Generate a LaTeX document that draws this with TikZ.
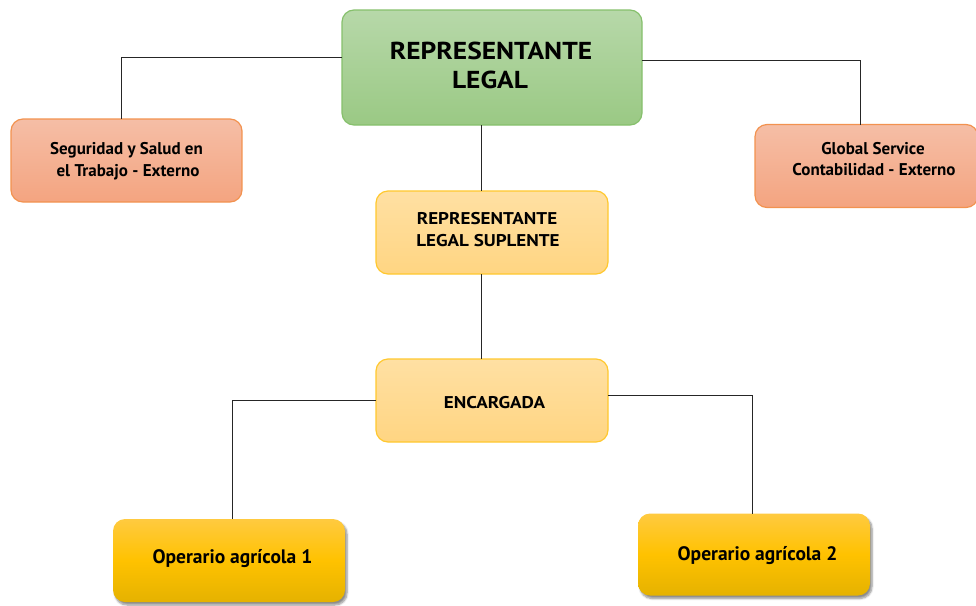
\documentclass[tikz,border=0pt]{standalone}
\usepackage{fontspec}
\setmainfont{PT Sans}
\newfontfamily\capsfont{PT Sans}[FakeStretch=1.12]
\usetikzlibrary{calc,shadows,shadows.blur}
\definecolor{gTop}{HTML}{B7D8A9}
\definecolor{gBot}{HTML}{9AC984}
\definecolor{gLine}{HTML}{86C06C}
\definecolor{sTop}{HTML}{F5BEA6}
\definecolor{sBot}{HTML}{F4A480}
\definecolor{sLine}{HTML}{F2924F}
\definecolor{yTop}{HTML}{FFE0A3}
\definecolor{yBot}{HTML}{FFD582}
\definecolor{yLine}{HTML}{FFC82E}
\definecolor{oTop}{HTML}{FFCA40}
\definecolor{oMid}{HTML}{FFC200}
\definecolor{oBot}{HTML}{E5B200}
\tikzset{
  box/.style={rectangle, rounded corners=12pt, inner sep=0pt, outer sep=0pt,
    line width=1.2pt},
  greenbox/.style={box, draw=gLine, top color=gTop, bottom color=gBot},
  salmonbox/.style={box, draw=sLine, top color=sTop, bottom color=sBot},
  lightbox/.style={box, draw=yLine, top color=yTop, bottom color=yBot},
  goldbox/.style={box, top color=oTop, bottom color=oBot, middle color=oMid,
    blur shadow={shadow blur steps=6, shadow xshift=2pt, shadow yshift=-3pt, shadow opacity=45}},
  lbl/.style={anchor=base, inner sep=0pt, text=black},
  bigcaps/.style={lbl, font=\capsfont\bfseries\fontsize{24.5}{29}\selectfont},
  smallcaps/.style={lbl, font=\capsfont\bfseries\fontsize{17}{22}\selectfont},
  smalltxt/.style={lbl, font=\bfseries\fontsize{17}{22}\selectfont},
  optxt/.style={lbl, font=\bfseries\fontsize{19.5}{24}\selectfont},
  conn/.style={draw=black!85, line width=1pt}
}
\begin{document}
\begin{tikzpicture}[x=1pt,y=-1pt]
\useasboundingbox (0,0) rectangle (976,605);
% boxes
\node[greenbox, minimum width=300pt, minimum height=115pt] (rl) at (492,67.5) {};
\node[salmonbox, minimum width=231pt, minimum height=83pt] (seg) at (126.5,160.5) {};
\node[salmonbox, minimum width=223pt, minimum height=83pt] (gs) at (866.5,166) {};
\node[lightbox, minimum width=232pt, minimum height=83pt] (sup) at (492,232.5) {};
\node[lightbox, minimum width=232pt, minimum height=83pt] (enc) at (492,400.5) {};
\node[goldbox, minimum width=232pt, minimum height=83pt] (op1) at (229,560.5) {};
\node[goldbox, minimum width=232pt, minimum height=82pt] (op2) at (754,554.5) {};
% texts
\node[bigcaps] (rl1) at (491,59) {REPRESENTANTE};
\node[bigcaps] (rl2) at (490,88) {LEGAL};
\node[smalltxt] (seg1) at (126.5,154) {Seguridad y Salud en};
\node[smalltxt] (seg2) at (128,176) {el Trabajo - Externo};
\node[smalltxt] (gs1) at (873,154) {Global Service};
\node[smalltxt] (gs2) at (874,175) {Contabilidad - Externo};
\node[smallcaps] (sup1) at (487,224) {REPRESENTANTE};
\node[smallcaps] (sup2) at (488,246) {LEGAL SUPLENTE};
\node[smallcaps] (enc1) at (494.5,408) {ENCARGADA};
\node[optxt] (op1t) at (232.5,563) {Operario agrícola 1};
\node[optxt] (op2t) at (757.5,560) {Operario agrícola 2};
% connectors
\draw[conn] ($(rl.north west)+(0,47)$) -| ($(seg.north)+(-5.5,0)$);
\draw[conn] ($(rl.north east)+(0,50)$) -| ($(gs.north)+(-6.5,0)$);
\draw[conn] ($(rl.south)+(-11,0)$) -- ($(sup.north)+(-11,0)$);
\draw[conn] ($(sup.south)+(-11,0)$) -- ($(enc.north)+(-11,0)$);
\draw[conn] (enc.west) -| ($(op1.north)+(3,0)$);
\draw[conn] ($(enc.east)+(0,-5)$) -| ($(op2.north)+(-1.5,0)$);
\end{tikzpicture}
\end{document}
